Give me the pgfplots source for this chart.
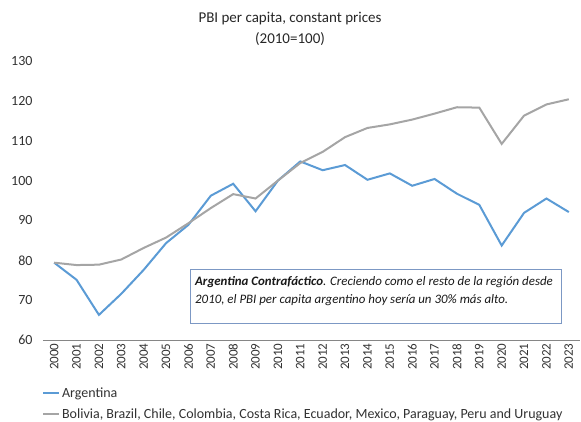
\documentclass[border=0pt]{standalone}
\usepackage{fontspec}
\setmainfont{Carlito}
\usepackage{pgfplots}
\pgfplotsset{compat=1.18}
\definecolor{cArg}{RGB}{91,155,213}
\definecolor{cReg}{RGB}{165,165,165}
\definecolor{cAxis}{RGB}{134,134,134}
\definecolor{cTxt}{RGB}{50,50,50}
\definecolor{cBox}{RGB}{124,152,196}

\begin{document}
\begin{tikzpicture}
\path[use as bounding box] (-43pt,-82pt) rectangle (538pt,340pt);
\begin{axis}[
    scale only axis, width=537pt, height=279pt,
    xmin=-0.5, xmax=23.5, ymin=60, ymax=130,
    axis lines*=left,
    y axis line style={draw=none},
    x axis line style={cAxis, line width=0.8pt},
    ytick={60,70,...,130}, ytick style={draw=none},
    xtick={0,...,23}, major x tick style={draw=none},
    xticklabels={2000,2001,2002,2003,2004,2005,2006,2007,2008,2009,2010,2011,
                 2012,2013,2014,2015,2016,2017,2018,2019,2020,2021,2022,2023},
    extra x ticks={-0.5,0.5,...,23.5}, extra x tick labels={},
    extra x tick style={tick style={cAxis, line width=0.8pt}, major tick length=4pt,
        tick align=outside},
    xticklabel style={rotate=90, anchor=east, font=\fontsize{13}{15}\selectfont, text=cTxt},
    yticklabel style={font=\fontsize{14}{16}\selectfont, text=cTxt, xshift=-7pt},
    /pgf/number format/assume math mode=true,
    title={PBI per capita, constant prices\\(2010=100)},
    title style={at={(0.46,1.165)}, anchor=north, align=center,
        font=\fontsize{15}{21}\selectfont, text=black!85},
    legend style={draw=none, fill=none, at={(-0.002,-0.163)}, anchor=north west,
        font=\fontsize{14}{16}\selectfont, text=cTxt, row sep=6pt,
        inner sep=0pt},
    legend cell align=left,
    legend image code/.code={\draw[#1] (0pt,0pt) -- (16pt,0pt);},
    clip=false,
  ]
  \addplot[cArg, line width=2pt] coordinates {
    (0,79.4)(1,75.1)(2,66.3)(3,71.6)(4,77.6)(5,84.3)(6,88.9)(7,96.2)
    (8,99.2)(9,92.3)(10,100.0)(11,104.8)(12,102.6)(13,103.9)(14,100.2)
    (15,101.8)(16,98.7)(17,100.4)(18,96.7)(19,93.9)(20,83.7)(21,91.9)
    (22,95.5)(23,92.1)};
  \addlegendentry{Argentina}
  \addplot[cReg, line width=2pt] coordinates {
    (0,79.4)(1,78.8)(2,78.9)(3,80.2)(4,83.1)(5,85.7)(6,89.3)(7,93.1)
    (8,96.6)(9,95.5)(10,100.0)(11,104.4)(12,107.2)(13,110.9)(14,113.2)
    (15,114.1)(16,115.3)(17,116.8)(18,118.4)(19,118.3)(20,109.2)(21,116.3)
    (22,119.1)(23,120.4)};
  \addlegendentry{Bolivia, Brazil, Chile, Colombia, Costa Rica, Ecuador, Mexico, Paraguay, Peru and Uruguay}
  \draw[cBox, line width=0.9pt, fill=white]
    (rel axis cs:0.274,0.061) rectangle (rel axis cs:0.966,0.254);
  \node[anchor=north west, align=left, inner sep=0pt, text=black!90,
        font=\fontsize{12.9}{18}\selectfont\itshape]
    at (rel axis cs:0.283,0.228)
    {\textbf{Argentina Contrafáctico}. Creciendo como el resto de la región desde\\
     2010, el PBI per capita argentino hoy sería un 30\% más alto.};
\end{axis}
\end{tikzpicture}
\end{document}
